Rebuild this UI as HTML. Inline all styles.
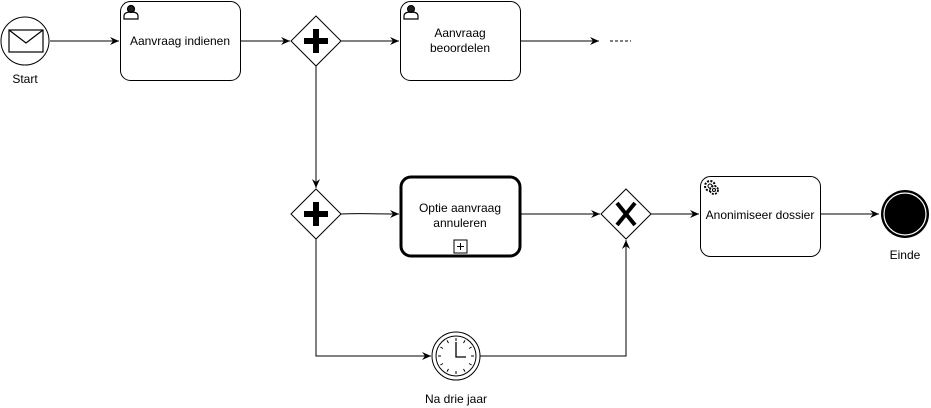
<!DOCTYPE html>
<html><head><meta charset="utf-8"><style>
html,body{margin:0;padding:0;background:#fff;}
svg{display:block;font-family:"Liberation Sans",Arial,sans-serif;}
</style></head><body>
<svg width="931" height="408" viewBox="0 0 931 408" xmlns="http://www.w3.org/2000/svg">
<defs>
<marker id="a" markerWidth="10" markerHeight="10" refX="9" refY="5" orient="auto" markerUnits="userSpaceOnUse">
<path d="M0,1 L9,5 L0,9 L3,5 Z" fill="#000"/>
</marker>
</defs>
<g stroke="#000" stroke-width="1" fill="none">
<!-- connectors -->
<line x1="50" y1="41" x2="119" y2="41" marker-end="url(#a)"/>
<line x1="240" y1="41" x2="290" y2="41" marker-end="url(#a)"/>
<line x1="341" y1="41" x2="399" y2="41" marker-end="url(#a)"/>
<line x1="520" y1="41" x2="599" y2="41" marker-end="url(#a)"/>
<line x1="610" y1="41" x2="631" y2="41" stroke-dasharray="3,2"/>
<line x1="316" y1="66" x2="316" y2="188" marker-end="url(#a)"/>
<path d="M341,214 C360,213 370,214 399,214" marker-end="url(#a)"/>
<line x1="520" y1="214" x2="600" y2="214" marker-end="url(#a)"/>
<line x1="651" y1="214" x2="699" y2="214" marker-end="url(#a)"/>
<line x1="820" y1="214" x2="879" y2="214" marker-end="url(#a)"/>
<polyline points="316,239 316,356 431,356" marker-end="url(#a)"/>
<polyline points="480,356 626,356 626,240" marker-end="url(#a)"/>
</g>
<!-- start -->
<circle cx="25" cy="41" r="24" fill="#fff" stroke="#000"/>
<rect x="9" y="30" width="34" height="22" fill="#fff" stroke="#000" stroke-width="1.2"/>
<polyline points="9,30 26,43 43,30" fill="none" stroke="#000" stroke-width="1.2"/>
<text x="25" y="83" font-size="12" text-anchor="middle">Start</text>
<!-- task 1 -->
<rect x="120.5" y="1.5" width="120" height="79" rx="10" fill="#fff" stroke="#000"/>
<g fill="none" stroke="#000" stroke-width="1.2">
<circle cx="131" cy="9" r="3.5" fill="#222"/><path d="M124,19 v-3 q0,-4 7,-4 q7,0 7,4 v3 z"/></g>
<circle cx="411" cy="9" r="3.5" fill="#222" stroke="#000"/><path d="M404,19 v-3 q0,-4 7,-4 q7,0 7,4 v3 z" fill="none" stroke="#000" stroke-width="1.2"/>
<text x="180" y="45" font-size="12" text-anchor="middle">Aanvraag indienen</text>
<!-- task 2 -->
<rect x="400.5" y="1.5" width="120" height="79" rx="10" fill="#fff" stroke="#000"/>
<circle cx="411" cy="9" r="3.5" fill="#222" stroke="#000"/><path d="M404,19 v-3 q0,-4 7,-4 q7,0 7,4 v3 z" fill="none" stroke="#000" stroke-width="1.2"/>
<text x="460" y="37" font-size="12" text-anchor="middle">Aanvraag</text>
<text x="460" y="52" font-size="12" text-anchor="middle">beoordelen</text>
<!-- gateway 1 -->
<polygon points="316,16 341,41 316,66 291,41" fill="#fff" stroke="#000"/>
<path d="M313,29 h6 v9 h9 v6 h-9 v9 h-6 v-9 h-9 v-6 h9 z" fill="#000"/>
<!-- gateway 2 -->
<polygon points="316,189 341,214 316,239 291,214" fill="#fff" stroke="#000"/>
<path d="M313,202 h6 v9 h9 v6 h-9 v9 h-6 v-9 h-9 v-6 h9 z" fill="#000"/>
<!-- subprocess -->
<rect x="401" y="177" width="119" height="79" rx="10" fill="#fff" stroke="#000" stroke-width="3"/>
<rect x="454" y="240" width="13" height="13" fill="#fff" stroke="#000"/>
<line x1="457" y1="246.5" x2="464" y2="246.5" stroke="#000"/><line x1="460.5" y1="243" x2="460.5" y2="250" stroke="#000"/>
<text x="460" y="212" font-size="12" text-anchor="middle">Optie aanvraag</text>
<text x="460" y="227" font-size="12" text-anchor="middle">annuleren</text>
<!-- xor -->
<polygon points="626,189 651,214 626,239 601,214" fill="#fff" stroke="#000"/>
<path d="M617,203 L635,225 M635,203 L617,225" stroke="#000" stroke-width="4"/>
<!-- task 3 -->
<rect x="700.5" y="176.5" width="120" height="80" rx="10" fill="#fff" stroke="#000"/>
<circle cx="710" cy="186" r="5" fill="none" stroke="#000" stroke-width="2" stroke-dasharray="2,1.4"/>
<circle cx="710" cy="186" r="2" fill="none" stroke="#000"/>
<circle cx="714" cy="190" r="4" fill="#fff" stroke="#000" stroke-width="1.8" stroke-dasharray="2,1.2"/>
<circle cx="714" cy="190" r="1.5" fill="none" stroke="#000"/>
<text x="760" y="219" font-size="12" text-anchor="middle">Anonimiseer dossier</text>
<!-- end -->
<circle cx="905" cy="214" r="24" fill="#000"/>
<circle cx="905" cy="214" r="21" fill="#000" stroke="#fff" stroke-width="1.2"/>
<text x="905" y="259" font-size="12" text-anchor="middle">Einde</text>
<!-- timer -->
<circle cx="456" cy="356" r="24" fill="#fff" stroke="#000"/>
<circle cx="456" cy="356" r="20" fill="#fff" stroke="#000"/>
<g stroke="#000" stroke-width="1">
<line x1="456" y1="338" x2="456" y2="341"/><line x1="456" y1="371" x2="456" y2="374"/>
<line x1="438" y1="356" x2="441" y2="356"/><line x1="471" y1="356" x2="474" y2="356"/>
<line x1="465" y1="340.4" x2="463.5" y2="343"/><line x1="471.6" y1="347" x2="469" y2="348.5"/>
<line x1="471.6" y1="365" x2="469" y2="363.5"/><line x1="465" y1="371.6" x2="463.5" y2="369"/>
<line x1="447" y1="371.6" x2="448.5" y2="369"/><line x1="440.4" y1="365" x2="443" y2="363.5"/>
<line x1="440.4" y1="347" x2="443" y2="348.5"/><line x1="447" y1="340.4" x2="448.5" y2="343"/>
<polyline points="456,342 456,357 466,357" fill="none" stroke-width="1.3"/>
</g>
<text x="456" y="403" font-size="12" text-anchor="middle">Na drie jaar</text>
</svg>
</body></html>
